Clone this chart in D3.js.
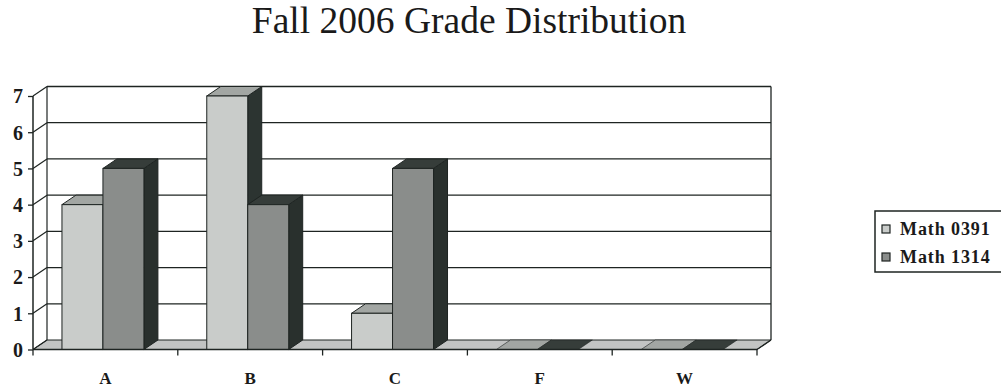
<!DOCTYPE html>
<html>
<head>
<meta charset="utf-8">
<script src="https://cdn.jsdelivr.net/npm/d3@7/dist/d3.min.js"></script>
<style>
  html, body { margin: 0; padding: 0; background: #ffffff; }
  svg { display: block; }
</style>
</head>
<body>
<svg id="chart" width="1001" height="387"></svg>
<script>
// Grade counts per course
const categories = ["A", "B", "C", "F", "W"];
const seriesNames = ["Math 0391", "Math 1314"];
const math0391 = [4, 7, 1, 0, 0];
const math1314 = [5, 4, 5, 0, 0];
const yTicks = [0, 1, 2, 3, 4, 5, 6, 7];

(function () {
const svg = d3.select("#chart");
const FONT = "'Liberation Serif', 'Times New Roman', serif";

// Front plane of the plot and the 3D depth offset
const plotLeft = 33, plotRight = 757, plotBottom = 349.5, plotTop = 96;
const depthX = 14, depthY = -9.5;

const x = d3.scaleBand().domain(categories).range([plotLeft, plotRight]);
const y = d3.scaleLinear().domain([0, 7]).range([plotBottom, plotTop]);
const sub = d3.scaleBand().domain(seriesNames)
  .range([0.2 * x.bandwidth(), 0.2 * x.bandwidth() + 0.566 * x.bandwidth()]);

const styles = {
  "Math 0391": { front: "#c9ccca", top: "#a2a6a3", side: "#2c3431" },
  "Math 1314": { front: "#8a8d8b", top: "#363d3a", side: "#29302d" }
};
const ink = "#1e2422";

// Title
svg.append("text")
  .attr("x", 469).attr("y", 33)
  .attr("text-anchor", "middle")
  .attr("font-family", FONT).attr("font-size", 37.5)
  .attr("fill", "#1a1a1a")
  .text("Fall 2006 Grade Distribution");

const g = svg.append("g");

// Floor
g.append("path")
  .attr("d", `M${plotLeft},${plotBottom} L${plotRight},${plotBottom} L${plotRight + depthX},${plotBottom + depthY} L${plotLeft + depthX},${plotBottom + depthY} Z`)
  .attr("fill", "#c2c4c3").attr("stroke", ink).attr("stroke-width", 1);

// Back wall gridlines and side wall diagonals
yTicks.forEach(t => {
  const yy = y(t);
  if (t > 0) {
    g.append("line")
      .attr("x1", plotLeft + depthX).attr("x2", plotRight + depthX)
      .attr("y1", yy + depthY).attr("y2", yy + depthY)
      .attr("stroke", ink).attr("stroke-width", 1.3);
  }
  g.append("line")
    .attr("x1", plotLeft).attr("y1", yy)
    .attr("x2", plotLeft + depthX).attr("y2", yy + depthY)
    .attr("stroke", ink).attr("stroke-width", 1.2);
});

// Back wall edges
g.append("line")
  .attr("x1", plotLeft + depthX).attr("x2", plotLeft + depthX)
  .attr("y1", y(7) + depthY).attr("y2", plotBottom + depthY)
  .attr("stroke", ink).attr("stroke-width", 1.2);
g.append("line")
  .attr("x1", plotRight + depthX).attr("x2", plotRight + depthX)
  .attr("y1", y(7) + depthY).attr("y2", plotBottom + depthY)
  .attr("stroke", ink).attr("stroke-width", 1.3);

// 3D bars, drawn left to right so nearer faces overlap correctly
const bars = [];
categories.forEach((c, i) => {
  bars.push({ cat: c, series: "Math 0391", value: math0391[i] });
  bars.push({ cat: c, series: "Math 1314", value: math1314[i] });
});

const barG = g.selectAll("g.bar").data(bars).join("g").attr("class", "bar");
barG.each(function (d) {
  const sel = d3.select(this);
  const x0 = x(d.cat) + sub(d.series);
  const x1 = x0 + sub.bandwidth();
  const y0 = plotBottom;
  const y1 = y(d.value);
  const st = styles[d.series];
  // side face
  if (d.value > 0) {
    sel.append("path")
      .attr("d", `M${x1},${y1} L${x1 + depthX},${y1 + depthY} L${x1 + depthX},${y0 + depthY} L${x1},${y0} Z`)
      .attr("fill", st.side).attr("stroke", ink).attr("stroke-width", 1);
  }
  // top face
  sel.append("path")
    .attr("d", `M${x0},${y1} L${x1},${y1} L${x1 + depthX},${y1 + depthY} L${x0 + depthX},${y1 + depthY} Z`)
    .attr("fill", st.top).attr("stroke", ink).attr("stroke-width", d.value > 0 ? 1 : 0.6);
  // front face
  if (d.value > 0) {
    sel.append("rect")
      .attr("x", x0).attr("y", y1)
      .attr("width", x1 - x0).attr("height", y0 - y1)
      .attr("fill", st.front).attr("stroke", ink).attr("stroke-width", 1);
  }
});

// Floor right edge drawn above bars
g.append("line")
  .attr("x1", plotRight).attr("y1", plotBottom)
  .attr("x2", plotRight + depthX).attr("y2", plotBottom + depthY)
  .attr("stroke", ink).attr("stroke-width", 1.3);

// Y axis
const yAxis = d3.axisLeft(y).tickValues(yTicks).tickFormat(d3.format("d"))
  .tickSize(5).tickPadding(5);
const yG = svg.append("g").attr("transform", `translate(${plotLeft},0)`).call(yAxis);
yG.select(".domain").attr("stroke", ink).attr("stroke-width", 1.5)
  .attr("d", `M0,${plotTop}V${plotBottom}`);
yG.selectAll(".tick line").attr("stroke", ink).attr("stroke-width", 1.3);
yG.selectAll(".tick text")
  .attr("font-family", FONT).attr("font-size", 20).attr("font-weight", "bold")
  .attr("fill", "#1a1a1a").attr("dy", "0.34em");

// X axis
const xAxis = d3.axisBottom(x).tickSize(0).tickPadding(0);
const xG = svg.append("g").attr("transform", `translate(0,${plotBottom})`).call(xAxis);
xG.select(".domain").attr("stroke", ink).attr("stroke-width", 1.5)
  .attr("d", `M${plotLeft},0H${plotRight}`);
xG.selectAll(".tick text")
  .attr("font-family", FONT).attr("font-size", 17).attr("font-weight", "bold")
  .attr("fill", "#1a1a1a").attr("y", 34).attr("dy", 0);
// Category boundary ticks
const bounds = categories.map(c => x(c)).concat([plotRight]);
xG.selectAll("line.bound").data(bounds).join("line")
  .attr("class", "bound")
  .attr("x1", d => d).attr("x2", d => d)
  .attr("y1", 0).attr("y2", 6)
  .attr("stroke", ink).attr("stroke-width", 1.3);

// Legend
const lg = svg.append("g");
lg.append("rect")
  .attr("x", 875).attr("y", 211).attr("width", 140).attr("height", 61)
  .attr("fill", "#ffffff").attr("stroke", ink).attr("stroke-width", 1.5);
seriesNames.forEach((s, i) => {
  const cy = 229 + i * 28;
  lg.append("rect")
    .attr("x", 882).attr("y", cy - 4).attr("width", 8).attr("height", 8)
    .attr("fill", styles[s].front).attr("stroke", ink).attr("stroke-width", 1.2);
  lg.append("text")
    .attr("x", 900).attr("y", cy + 6)
    .attr("font-family", FONT).attr("font-size", 18).attr("font-weight", "bold")
    .attr("letter-spacing", 0.9)
    .attr("fill", "#1a1a1a")
    .text(s);
});
})();
</script>
</body>
</html>
